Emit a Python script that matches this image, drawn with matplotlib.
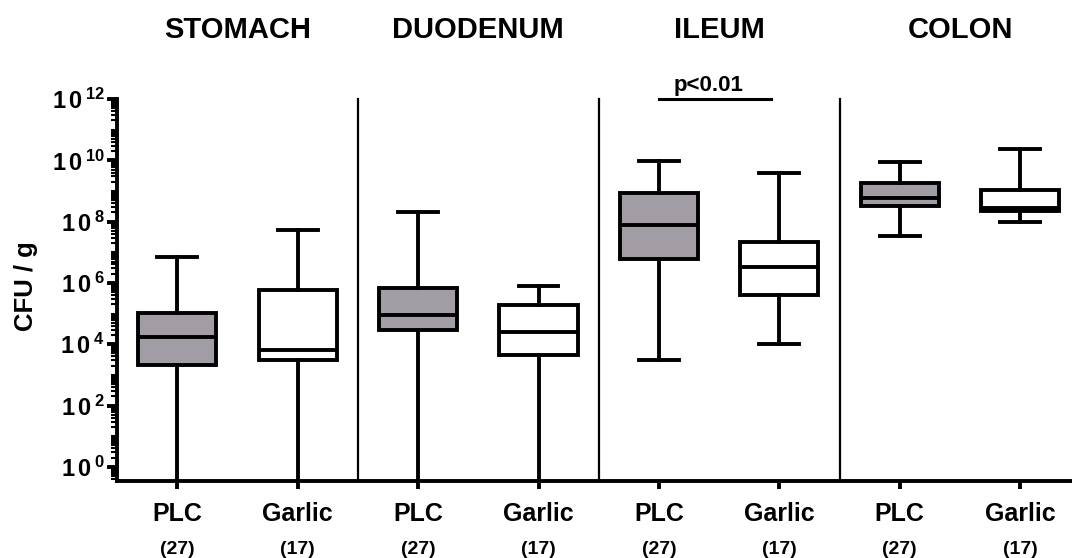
import matplotlib
matplotlib.use("Agg")
import matplotlib.pyplot as plt
from matplotlib.ticker import LogLocator, FixedLocator, NullFormatter
from matplotlib.transforms import blended_transform_factory

plt.rcParams['font.family'] = ['Liberation Sans', 'DejaVu Sans']
plt.rcParams['mathtext.fontset'] = 'custom'
plt.rcParams['mathtext.rm'] = 'Liberation Sans:bold'
plt.rcParams['mathtext.bf'] = 'Liberation Sans:bold'

# ---- data (log10 CFU/g) ----
regions = ["STOMACH", "DUODENUM", "ILEUM", "COLON"]
groups = ["PLC", "Garlic"] * 4
counts = ["(27)", "(17)"] * 4
whislo = [-1.0, -1.0, -1.0, -1.0, 3.49, 4.01, 7.54, 8.00]
q1     = [3.33, 3.49, 4.47, 3.65, 6.77, 5.60, 8.52, 8.36]
med    = [4.25, 3.81, 4.96, 4.40, 7.89, 6.51, 8.78, 8.46]
q3     = [5.03, 5.77, 5.83, 5.27, 8.92, 7.34, 9.25, 9.03]
whishi = [6.86, 7.73, 8.30, 5.91, 9.99, 9.60, 9.95, 10.36]
ytick_exp = [0, 2, 4, 6, 8, 10, 12]
sig_label = "p<0.01"
sig_pair = (4, 4.93)
sig_level = 12.0

fig = plt.figure(figsize=(10.72, 5.58), dpi=100)
ax = fig.add_axes([117/1072, 77/558, (1072-117)/1072, 382/558])

stats = []
for i in range(len(groups)):
    stats.append(dict(whislo=10**whislo[i], q1=10**q1[i], med=10**med[i],
                      q3=10**q3[i], whishi=10**whishi[i], fliers=[]))
pos = list(range(len(groups)))
lw = 2.8
bp = ax.bxp(stats, positions=pos, widths=0.65, capwidths=0.33, patch_artist=True,
            showfliers=False,
            boxprops=dict(linewidth=lw, edgecolor='black'),
            medianprops=dict(linewidth=lw, color='black'),
            whiskerprops=dict(linewidth=lw, color='black'),
            capprops=dict(linewidth=lw, color='black'))
for i, b in enumerate(bp['boxes']):
    b.set_facecolor('#a29da5' if groups[i] == 'PLC' else 'white')
    b.set_joinstyle('miter')

ax.set_yscale('log')
ax.set_ylim(10**-0.46, 10**12)
ax.set_xlim(-0.5, 7.43)

# separators
for s in [1.5, 3.5, 5.5]:
    ax.plot([s, s], [10**-0.46, 10**12], color='black', lw=1.6, clip_on=False)

# spines
for sp in ['top', 'right']:
    ax.spines[sp].set_visible(False)
ax.spines['left'].set_linewidth(2.8)
ax.spines['bottom'].set_linewidth(2.8)

ax.yaxis.set_major_locator(FixedLocator([10.0**e for e in ytick_exp]))
ax.set_yticklabels([r'$\mathbf{1\,0^{\,%d}}$' % e for e in ytick_exp], fontsize=17)
ax.yaxis.set_minor_locator(LogLocator(base=10, subs=[1, 2, 3, 4, 5, 6, 7, 8, 9], numticks=100))
ax.yaxis.set_minor_formatter(NullFormatter())
ax.tick_params(axis='y', which='major', length=7, width=2.8, pad=2)
ax.tick_params(axis='y', which='minor', length=4, width=1.5)

ax.set_xticks(pos)
ax.set_xticklabels(groups, fontsize=18, fontweight='bold')
ax.tick_params(axis='x', length=6, width=2.8, pad=9)

trans = blended_transform_factory(ax.transData, fig.transFigure)
for i, c in enumerate(counts):
    fig.text(pos[i], 1 - 549/558, c, transform=trans, ha='center', va='center',
             fontsize=14, fontweight='bold')
for k, r in enumerate(regions):
    fig.text(2*k + 0.5, 1 - 30/558, r, transform=trans, ha='center', va='center',
             fontsize=21, fontweight='bold')

ax.set_ylabel('CFU / g', fontsize=18.5, fontweight='bold')
ax.yaxis.set_label_coords(-0.083, 0.51)

ax.plot(list(sig_pair), [10**sig_level]*2, color='black', lw=2.2, clip_on=False)
ax.text(sum(sig_pair)/2 - 0.05, 10**(sig_level + 0.1), sig_label, ha='center', va='bottom',
        fontsize=16, fontweight='bold')

fig.savefig('out.png', dpi=100)
